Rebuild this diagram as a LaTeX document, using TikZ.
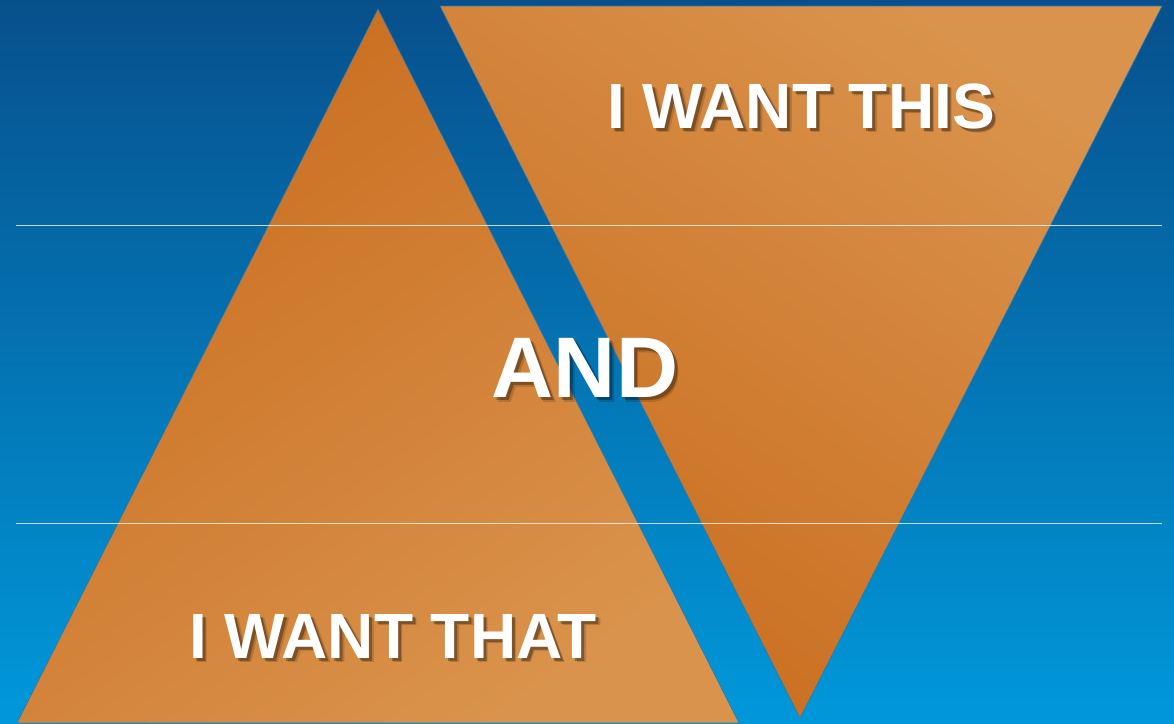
\documentclass[tikz,border=0pt]{standalone}
\usepackage{fontspec}
\setmainfont{Liberation Sans}
\usetikzlibrary{positioning}

\definecolor{bgtop}{HTML}{07508C}
\definecolor{bgbot}{HTML}{0098DA}
\definecolor{ordark}{HTML}{C96D1F}
\definecolor{orlight}{HTML}{DA934C}
\definecolor{edgeblue}{HTML}{2A78B0}

\begin{document}
\begin{tikzpicture} [x = 1pt, y = -1pt,
        tri/.style = {draw = edgeblue, line width = 0.6pt},
        rule/.style = {draw = white, opacity = 0.75, line width = 0.9pt},
        word/.style = {text = white, font = \bfseries\fontsize{#1}{#1}\selectfont, inner sep = 0pt},
        shadow/.style = {text = black, opacity = 0.25, font = \bfseries\fontsize{#1}{#1}\selectfont, inner sep = 0pt}]

        % background
        \useasboundingbox (0,0) rectangle (1174,723);
        \shade [top color = bgtop, bottom color = bgbot] (0,0) rectangle (1174,723);

        % corners of the two triangles
        \coordinate (up top) at (378,9); \coordinate (up left) at (17,723);
        \coordinate (up right) at (739,723);
        \coordinate (dn left) at (440,6); \coordinate (dn right) at (1162,6);
        \coordinate (dn tip) at (800,718);

        \shade [tri, top color = ordark, bottom color = orlight, shading angle = 35]
            (up top) -- (up right) -- (up left) -- cycle;
        \shade [tri, top color = orlight, bottom color = ordark, shading angle = -35]
            (dn left) -- (dn right) -- (dn tip) -- cycle;

        % the two thin rules
        \coordinate (r1 a) at (16,225); \coordinate (r1 b) at (1162,225);
        \coordinate (r2 a) at (16,523); \coordinate (r2 b) at (1162,523);
        \draw [rule] (r1 a) -- (r1 b);
        \draw [rule] (r2 a) -- (r2 b);

        % words
        \foreach \dx/\dy/\op in {3/3/0.3, 4.5/4.5/0.15} {
            \node [shadow = 64, opacity = \op] (this sh) at (801+\dx,106+\dy) {I WANT THIS};
            \node [shadow = 86, opacity = \op] (and sh) at (585+\dx,368+\dy) {AND};
            \node [shadow = 64, opacity = \op] (that sh) at (393+\dx,636+\dy) {I WANT THAT};
        }
        \node [word = 64] (this) at (801,106) {I WANT THIS};
        \node [word = 86] (and) at (585,368) {AND};
        \node [word = 64] (that) at (393,636) {I WANT THAT};

    \end{tikzpicture}
\end{document}
